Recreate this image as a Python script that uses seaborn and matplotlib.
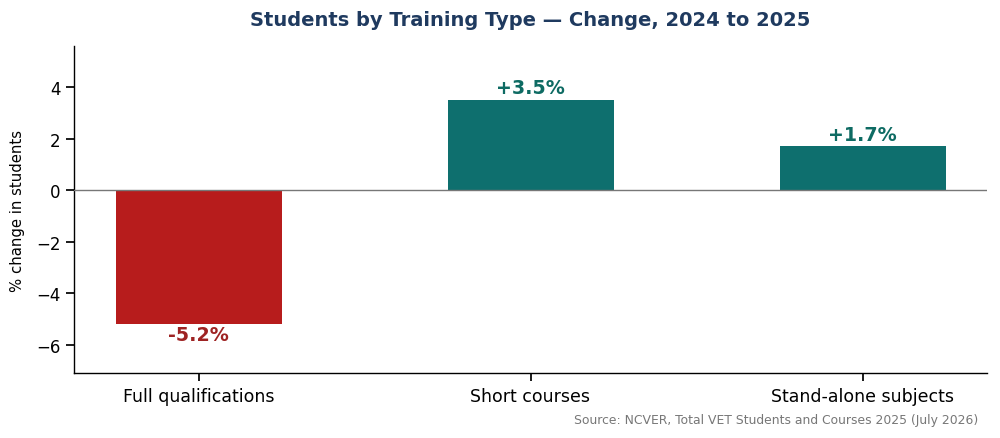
import matplotlib
matplotlib.use("Agg")
import matplotlib.pyplot as plt
import seaborn as sns
import pandas as pd

categories = ["Full qualifications", "Short courses", "Stand-alone subjects"]
changes = [-5.2, 3.5, 1.7]
labels = ["-5.2%", "+3.5%", "+1.7%"]

NEG = "#b71c1c"
POS = "#0e6f6e"
NEG_TXT = "#9e2323"
POS_TXT = "#0e6b63"

sns.set_theme(style="ticks")
plt.rcParams['font.family'] = ['DejaVu Sans']

df = pd.DataFrame({"cat": categories, "val": changes})
colors = [NEG if v < 0 else POS for v in changes]

fig, ax = plt.subplots(figsize=(10, 4.39), dpi=100)
fig.subplots_adjust(left=0.074, right=0.987, top=0.893, bottom=0.148)

sns.barplot(data=df, x="cat", y="val", hue="cat", palette=colors, legend=False,
            width=0.5, ax=ax, saturation=1, edgecolor="none")

ax.axhline(0, color="#777777", linewidth=1.0, zorder=3)

for i, (v, lab) in enumerate(zip(changes, labels)):
    if v >= 0:
        ax.annotate(lab, (i, v), xytext=(0, 2), textcoords="offset points",
                    ha="center", va="bottom", fontsize=13.7, fontweight="bold", color=POS_TXT)
    else:
        ax.annotate(lab, (i, v), xytext=(0, -1), textcoords="offset points",
                    ha="center", va="top", fontsize=13.7, fontweight="bold", color=NEG_TXT)

ax.set_xlim(-0.375, 2.375)
ax.set_ylim(-7.1, 5.6)
ax.set_xlabel("")
ax.set_ylabel("% change in students", fontsize=10.7, color="black", labelpad=8)
ax.tick_params(axis="y", labelsize=12, colors="black")
ax.tick_params(axis="x", labelsize=12.5, colors="black", pad=4)
sns.despine(ax=ax)
for s in ["left", "bottom"]:
    ax.spines[s].set_color("black")
    ax.spines[s].set_linewidth(1.0)

ax.set_title("Students by Training Type \u2014 Change, 2024 to 2025", fontsize=14,
             fontweight="bold", color="#1f3a5f", pad=15)

fig.text(0.978, 0.027, "Source: NCVER, Total VET Students and Courses 2025 (July 2026)",
         ha="right", va="bottom", fontsize=8.9, color="#777777")

fig.savefig("out.png", dpi=100)
